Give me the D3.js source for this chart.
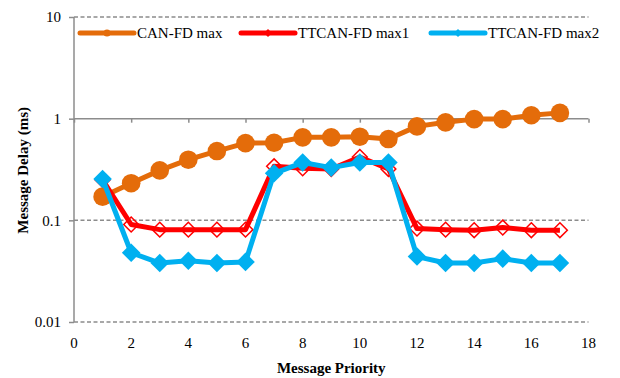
<!DOCTYPE html>
<html>
<head>
<meta charset="utf-8">
<script src="https://cdn.jsdelivr.net/npm/d3@7"></script>
<style>
  body { margin: 0; background: #fff; }
  text { font-family: "Liberation Serif", "Times New Roman", serif; }
</style>
</head>
<body>
<svg id="chart" width="620" height="378"></svg>
<script>
// data
const priorities = [1, 2, 3, 4, 5, 6, 7, 8, 9, 10, 11, 12, 13, 14, 15, 16, 17]
const canfdMax = [0.171, 0.232, 0.31, 0.395, 0.48, 0.575, 0.58, 0.655, 0.655, 0.665, 0.63, 0.84, 0.92, 0.99, 0.99, 1.08, 1.14]
const ttcanMax1 = [0.25, 0.091, 0.081, 0.081, 0.081, 0.081, 0.34, 0.325, 0.32, 0.42, 0.32, 0.083, 0.081, 0.08, 0.085, 0.08, 0.08]
const ttcanMax2 = [0.255, 0.048, 0.038, 0.04, 0.038, 0.039, 0.29, 0.37, 0.33, 0.37, 0.37, 0.044, 0.038, 0.038, 0.042, 0.038, 0.038]
const seriesNames = ["CAN-FD max", "TTCAN-FD max1", "TTCAN-FD max2"]
const xTicks = [0, 2, 4, 6, 8, 10, 12, 14, 16, 18]
const yTicks = [0.01, 0.1, 1, 10]

const svg = d3.select("#chart")
const gray = "#8c8c8c"

let x = d3.scaleLinear().domain([0, 18]).range([74, 588.5])
let y = d3.scaleLog().domain([0.01, 10]).range([322, 17])

// dashed gridlines (the 1 line is the x axis itself)
svg.append("g")
    .selectAll("line")
    .data(yTicks.filter(d => d !== 1))
    .join("line")
    .attr("x1", x(0)).attr("x2", x(18))
    .attr("y1", d => y(d)).attr("y2", d => y(d))
    .attr("stroke", gray)
    .attr("stroke-width", 1.5)
    .attr("stroke-dasharray", "4,2.5")

// y axis
const yAxis = svg.append("g")
    .attr("transform", `translate(${x(0)},0)`)
    .call(d3.axisLeft(y).tickValues(yTicks).tickFormat(d3.format("~g")).tickSize(5).tickPadding(8))
yAxis.select(".domain").attr("stroke", gray).attr("stroke-width", 1.5).attr("d", `M0,${y(0.01)}V${y(10)}`)
yAxis.selectAll(".tick line").attr("stroke", gray).attr("stroke-width", 1.5)
yAxis.selectAll(".tick text").attr("font-size", 15).attr("fill", "#000")
    .attr("font-family", "Liberation Serif")

// x axis line crosses at 1, labels sit at the bottom
const xAxis = svg.append("g")
    .attr("transform", `translate(0,${y(1)})`)
    .call(d3.axisBottom(x).tickValues(xTicks).tickSize(4).tickFormat(""))
xAxis.select(".domain").attr("stroke", gray).attr("stroke-width", 1.5).attr("d", `M${x(0)},0H${x(18)}`)
xAxis.selectAll(".tick line").attr("stroke", gray).attr("stroke-width", 1.5)

svg.append("g")
    .selectAll("text")
    .data(xTicks)
    .join("text")
    .attr("x", d => x(d))
    .attr("y", 348)
    .attr("text-anchor", "middle")
    .attr("font-size", 15)
    .text(d => d)

// axis titles
svg.append("text")
    .attr("x", x(9)).attr("y", 373)
    .attr("text-anchor", "middle")
    .attr("font-size", 15).attr("font-weight", "bold")
    .text("Message Priority")
svg.append("text")
    .attr("transform", `translate(28,${y(0.1) - 50}) rotate(-90)`)
    .attr("text-anchor", "middle")
    .attr("font-size", 15).attr("font-weight", "bold")
    .text("Message Delay (ms)")

const line = d3.line().x((d, i) => x(priorities[i])).y(d => y(d))
const diamond = d3.symbol().type(d3.symbolDiamond2)

// CAN-FD max
svg.append("path").attr("d", line(canfdMax))
    .attr("fill", "none").attr("stroke", "#e46c0a").attr("stroke-width", 5).attr("stroke-linejoin", "round")
svg.append("g").selectAll("circle").data(canfdMax).join("circle")
    .attr("cx", (d, i) => x(priorities[i])).attr("cy", d => y(d))
    .attr("r", 9.3).attr("fill", "#e46c0a")

// TTCAN-FD max1
svg.append("path").attr("d", line(ttcanMax1))
    .attr("fill", "none").attr("stroke", "#ff0000").attr("stroke-width", 5).attr("stroke-linejoin", "round")
svg.append("g").selectAll("path").data(ttcanMax1).join("path")
    .attr("transform", (d, i) => `translate(${x(priorities[i])},${y(d)})`)
    .attr("d", diamond.size(140)())
    .attr("fill", "none").attr("stroke", "#ff0000").attr("stroke-width", 1.5)

// TTCAN-FD max2
svg.append("path").attr("d", line(ttcanMax2))
    .attr("fill", "none").attr("stroke", "#00b0f0").attr("stroke-width", 5).attr("stroke-linejoin", "round")
svg.append("g").selectAll("path").data(ttcanMax2).join("path")
    .attr("transform", (d, i) => `translate(${x(priorities[i])},${y(d)})`)
    .attr("d", diamond.size(220)())
    .attr("fill", "#00b0f0")

// legend
const legendColors = ["#e46c0a", "#ff0000", "#00b0f0"]
const legendX = [80, 241, 431]
const legend = svg.append("g").selectAll("g").data(seriesNames).join("g")
    .attr("transform", (d, i) => `translate(${legendX[i]},33)`)
legend.append("line")
    .attr("x1", 0).attr("x2", 54).attr("y1", 0).attr("y2", 0)
    .attr("stroke", (d, i) => legendColors[i]).attr("stroke-width", 5).attr("stroke-linecap", "round")
legend.append("path")
    .attr("transform", "translate(27,0)")
    .attr("d", (d, i) => i === 0 ? d3.symbol().type(d3.symbolCircle).size(40)() : diamond.size(40)())
    .attr("fill", (d, i) => legendColors[i])
legend.append("text")
    .attr("x", 57).attr("y", 5)
    .attr("font-size", 15)
    .text(d => d)
</script>
</body>
</html>
